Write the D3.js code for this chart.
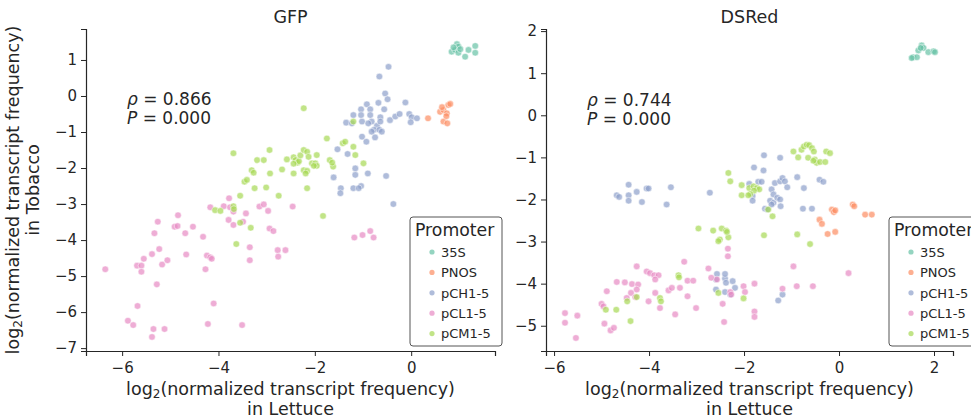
<!DOCTYPE html>
<html>
<head>
<meta charset="utf-8">
<script src="https://cdn.jsdelivr.net/npm/d3@7"></script>
<style>
  body { margin: 0; background: white; }
  text { font-family: "DejaVu Sans", sans-serif; fill: #262626; }
</style>
</head>
<body>
<div id="chart"></div>
<script>
// promoters and palette (seaborn Set2)
const promoters = ["35S", "PNOS", "pCH1-5", "pCL1-5", "pCM1-5"]
const colors = ["#66c2a5", "#fc8d62", "#8da0cb", "#e78ac3", "#a6d854"]

// GFP panel, [lettuce, tobacco]
const gfp35S = [[0.95,1.44],[0.98,1.37],[0.84,1.23],[0.91,1.28],[0.98,1.20],[1.12,1.09],[1.19,1.28],[1.33,1.39],[1.33,1.20],[0.88,1.35],[1.02,1.30]]
const gfpPNOS = [[0.35,-0.62],[0.60,-0.44],[0.67,-0.39],[0.77,-0.25],[0.81,-0.22],[0.74,-0.48],[0.67,-0.71],[0.75,-0.76],[0.64,-0.31],[0.73,-0.56]]
const gfpPCH = [[-0.47,0.81],[-0.66,0.54],[-0.54,0.07],[-0.49,-0.09],[-0.68,-0.19],[-0.92,-0.23],[-0.85,-0.37],[-1.04,-0.37],[-1.20,-0.53],[-1.04,-0.53],[-0.85,-0.53],[-0.64,-0.59],[-0.56,-0.37],[-1.35,-0.74],[-1.23,-0.76],[-1.02,-0.71],[-0.82,-0.71],[-0.89,-0.76],[-0.71,-0.83],[-0.77,-0.94],[-0.66,-0.94],[-0.61,-0.99],[-0.82,-0.99],[-0.64,-0.71],[-0.44,-0.67],[-0.33,-0.57],[-0.24,-0.50],[-0.12,-0.18],[-0.04,-0.50],[0.01,-0.59],[-0.01,-0.73],[0.12,-0.62],[-1.02,-1.13],[-0.93,-1.27],[-0.75,-1.15],[-1.53,-1.48],[-1.32,-1.61],[-1.16,-2.01],[-1.16,-2.19],[-1.61,-2.26],[-0.90,-2.15],[-0.52,-2.22],[-1.46,-2.56],[-1.47,-2.70],[-1.20,-2.56],[-1.04,-2.50],[-1.09,-2.56],[-0.37,-3.0]]
const gfpPCL = [[-6.35,-4.81],[-5.88,-6.24],[-5.77,-6.36],[-5.68,-5.83],[-5.69,-4.71],[-5.60,-4.71],[-5.60,-4.88],[-5.55,-4.52],[-5.38,-4.39],[-5.33,-3.81],[-5.26,-3.49],[-5.23,-4.25],[-5.28,-5.23],[-5.17,-4.68],[-5.06,-4.56],[-5.35,-6.47],[-5.38,-6.69],[-5.12,-6.47],[-4.91,-3.63],[-4.85,-3.61],[-4.84,-3.31],[-4.69,-3.81],[-4.67,-4.40],[-4.53,-3.63],[-4.32,-3.91],[-4.27,-4.81],[-4.24,-4.43],[-4.17,-4.48],[-4.14,-4.52],[-4.10,-5.76],[-4.22,-6.33],[-4.17,-3.09],[-3.89,-3.06],[-3.78,-2.84],[-3.79,-3.44],[-3.76,-3.09],[-3.69,-3.21],[-3.69,-3.58],[-3.49,-3.49],[-3.43,-3.26],[-3.35,-4.20],[-3.35,-4.56],[-3.51,-6.36],[-3.15,-3.07],[-3.06,-3.01],[-2.97,-3.19],[-2.94,-3.68],[-2.86,-3.75],[-2.77,-4.28],[-2.76,-4.46],[-2.61,-4.28],[-2.46,-3.07],[-1.18,-3.93],[-1.01,-3.86],[-0.85,-3.75],[-0.78,-3.93]]
const gfpPCM = [[-2.23,-0.34],[-1.20,-0.71],[-1.75,-1.18],[-1.42,-1.31],[-1.37,-1.27],[-1.20,-1.41],[-1.16,-1.64],[-0.99,-1.87],[-3.69,-1.59],[-2.94,-1.50],[-3.20,-1.78],[-3.06,-1.78],[-3.31,-2.06],[-3.27,-2.13],[-2.93,-2.15],[-2.68,-2.04],[-2.58,-1.76],[-2.44,-1.70],[-2.40,-1.78],[-2.36,-1.85],[-2.33,-1.81],[-2.44,-1.88],[-2.30,-1.65],[-2.23,-1.50],[-2.16,-1.55],[-2.13,-1.69],[-2.06,-1.87],[-1.99,-1.87],[-1.96,-1.94],[-2.02,-1.94],[-2.23,-2.06],[-2.16,-2.08],[-2.19,-2.15],[-2.44,-2.15],[-1.96,-1.64],[-1.69,-1.78],[-1.62,-1.96],[-1.64,-1.85],[-2.16,-2.56],[-3.46,-2.38],[-3.41,-2.33],[-3.25,-2.56],[-3.01,-2.54],[-2.75,-2.77],[-3.55,-2.77],[-3.69,-3.06],[-3.68,-3.14],[-4.07,-3.17],[-3.96,-3.19],[-3.55,-3.52],[-3.33,-3.66],[-3.63,-4.11],[-1.83,-3.33]]

// DSRed panel
const dsr35S = [[1.56,1.38],[1.64,1.38],[1.53,1.36],[1.67,1.54],[1.74,1.66],[1.78,1.60],[1.88,1.50],[1.99,1.52],[2.02,1.50],[1.72,1.60]]
const dsrPNOS = [[-0.15,-2.24],[-0.11,-2.30],[-0.08,-2.26],[0.29,-2.12],[0.32,-2.16],[0.55,-2.36],[0.69,-2.36],[-0.41,-2.48],[-0.36,-2.58],[-0.24,-2.82],[-0.08,-2.77]]
const dsrPCH = [[-1.58,-0.95],[-1.24,-1.01],[-1.79,-1.24],[-1.59,-1.31],[-2.72,-1.84],[-1.89,-1.63],[-1.70,-1.58],[-1.63,-1.58],[-1.82,-1.92],[-1.82,-2.03],[-1.42,-1.76],[-1.38,-1.88],[-1.45,-2.03],[-1.38,-2.08],[-1.30,-1.96],[-1.24,-2.00],[-1.42,-2.12],[-1.56,-2.22],[-1.51,-2.24],[-1.35,-1.61],[-1.24,-1.57],[-1.19,-1.49],[-1.14,-1.57],[-1.09,-1.71],[-1.23,-2.16],[-0.88,-1.47],[-0.74,-1.73],[-0.76,-2.22],[-0.57,-2.22],[-0.41,-1.53],[-0.33,-1.58],[-4.68,-1.90],[-4.63,-1.94],[-4.43,-1.65],[-4.43,-1.90],[-4.43,-2.03],[-4.26,-1.82],[-4.15,-2.06],[-4.05,-1.74],[-4.01,-1.74],[-3.63,-2.12],[-3.54,-1.71],[-2.59,-3.90],[-2.59,-4.14],[-2.40,-3.88],[-2.38,-3.98],[-2.24,-3.94],[-2.19,-4.10],[-2.40,-4.20],[-2.29,-4.26],[-2.57,-3.77],[-2.40,-3.77],[-1.28,-4.40],[-1.19,-4.26]]
const dsrPCL = [[-5.77,-4.70],[-5.77,-4.93],[-5.51,-4.76],[-5.54,-5.29],[-5.00,-4.48],[-4.96,-4.54],[-4.94,-4.95],[-4.81,-5.11],[-4.74,-5.05],[-4.89,-4.18],[-4.68,-3.96],[-4.51,-3.97],[-4.36,-4.01],[-4.23,-4.02],[-4.26,-4.14],[-4.38,-4.22],[-4.29,-4.32],[-4.47,-4.34],[-4.26,-3.59],[-4.05,-3.71],[-3.98,-3.75],[-3.89,-3.80],[-3.80,-3.80],[-3.87,-3.90],[-4.01,-4.42],[-3.87,-4.22],[-3.77,-4.58],[-3.59,-4.16],[-3.52,-4.10],[-3.35,-4.10],[-3.45,-4.73],[-3.19,-4.30],[-3.01,-4.58],[-3.26,-3.48],[-3.19,-3.93],[-3.07,-3.93],[-2.75,-3.64],[-2.69,-3.86],[-2.57,-3.90],[-2.45,-4.48],[-2.42,-4.91],[-2.29,-4.20],[-2.27,-4.26],[-2.34,-3.17],[-2.34,-3.35],[-2.01,-4.06],[-1.98,-4.20],[-1.78,-4.00],[-1.78,-4.66],[-1.78,-4.79],[-1.19,-4.12],[-0.96,-3.59],[-0.89,-4.06],[-0.55,-4.06],[0.20,-3.75]]
const dsrPCM = [[-0.96,-0.86],[-0.86,-1.00],[-0.79,-0.82],[-0.74,-0.74],[-0.68,-0.70],[-0.63,-0.71],[-0.57,-0.78],[-0.53,-0.86],[-0.65,-1.01],[-0.51,-1.05],[-0.47,-1.13],[-0.40,-1.11],[-0.29,-1.11],[-0.27,-0.86],[-0.19,-0.90],[-0.54,-1.08],[-2.33,-1.37],[-2.29,-1.57],[-2.05,-1.66],[-1.89,-1.73],[-1.80,-1.69],[-1.73,-1.73],[-1.68,-1.76],[-1.79,-1.79],[-1.87,-1.87],[-2.05,-1.90],[-1.91,-1.90],[-1.49,-2.24],[-1.40,-2.40],[-1.58,-2.85],[-0.88,-2.83],[-0.61,-3.06],[-2.96,-2.69],[-2.65,-2.74],[-2.47,-2.69],[-2.38,-2.74],[-2.33,-2.90],[-2.51,-2.95],[-2.54,-2.99],[-2.36,-2.77],[-4.91,-4.62],[-4.69,-4.62],[-4.39,-4.89],[-4.46,-4.42],[-4.26,-4.32],[-3.77,-4.34],[-3.75,-4.42],[-3.38,-3.80],[-3.37,-3.85],[-2.54,-4.22],[-2.01,-4.35]]

// ticks and stats
const gfpXTicks = [-6, -4, -2, 0]
const gfpYTicks = [1, 0, -1, -2, -3, -4, -5, -6, -7]
const dsrXTicks = [-6, -4, -2, 0, 2]
const dsrYTicks = [2, 1, 0, -1, -2, -3, -4, -5]
const rhoValues = ["0.866", "0.744"]
const pValues = ["0.000", "0.000"]

const W = 971, H = 419

let svg = d3.select("#chart").append("svg")
    .attr("width", W).attr("height", H)
    .style("background", "white")

let make = (opt) => {
    let x = d3.scaleLinear().domain(opt.xDomain).range([opt.left, opt.right])
    let y = d3.scaleLinear().domain(opt.yDomain).range([351, 29])
    let g = svg.append("g")

    // axes, despined
    let xAxis = g.append("g").attr("transform", "translate(0,351)")
        .call(d3.axisBottom(x).tickValues(opt.xTicks).tickSize(5).tickPadding(4)
            .tickFormat(d => d3.format("d")(d).replace("-", "\u2212")))
    let yAxis = g.append("g").attr("transform", `translate(${opt.left},0)`)
        .call(d3.axisLeft(y).tickValues(opt.yTicks).tickSize(5).tickPadding(4)
            .tickFormat(d => d3.format("d")(d).replace("-", "\u2212")))
    ;[xAxis, yAxis].forEach(a => {
        a.select(".domain").attr("stroke", "#262626").attr("stroke-width", 1.2)
        a.selectAll(".tick line").attr("stroke", "#262626").attr("stroke-width", 1)
        a.selectAll(".tick text").attr("font-size", 15).attr("fill", "#262626")
            .style("font-family", "DejaVu Sans")
    })
    xAxis.selectAll(".tick text").attr("dy", "0.85em")

    // points
    opt.series.forEach((s, i) => {
        g.append("g").selectAll("circle").data(s).enter().append("circle")
            .attr("cx", d => x(d[0]))
            .attr("cy", d => y(d[1]))
            .attr("r", 3.3)
            .attr("fill", colors[i])
            .attr("fill-opacity", 0.7)
            .attr("stroke", "white")
            .attr("stroke-width", 0.5)
    })

    // title
    g.append("text").attr("x", (opt.left + opt.right) / 2).attr("y", 23)
        .attr("text-anchor", "middle").attr("font-size", 17.5).text(opt.title)

    // x label, two lines
    let cx = (opt.left + opt.right) / 2
    let xl = g.append("text").attr("x", cx).attr("y", 395)
        .attr("text-anchor", "middle").attr("font-size", 17.5)
    xl.append("tspan").text("log")
    xl.append("tspan").attr("font-size", 12).attr("dy", 3).text("2")
    xl.append("tspan").attr("dy", -3).text("(normalized transcript frequency)")
    g.append("text").attr("x", cx).attr("y", 415)
        .attr("text-anchor", "middle").attr("font-size", 17.5).text("in Lettuce")

    // y label
    if (opt.yLabel) {
        let yl = g.append("text").attr("transform", "translate(19,190) rotate(-90)")
            .attr("text-anchor", "middle").attr("font-size", 17.5)
        yl.append("tspan").text("log")
        yl.append("tspan").attr("font-size", 12).attr("dy", 3).text("2")
        yl.append("tspan").attr("dy", -3).text("(normalized transcript frequency)")
        g.append("text").attr("transform", "translate(39,190) rotate(-90)")
            .attr("text-anchor", "middle").attr("font-size", 17.5).text("in Tobacco")
    }

    // correlation text
    let t1 = g.append("text").attr("x", opt.annX).attr("y", opt.annY).attr("font-size", 17)
    t1.append("tspan").attr("font-style", "italic").text("\u03c1")
    t1.append("tspan").text(" = " + opt.rho)
    let t2 = g.append("text").attr("x", opt.annX).attr("y", opt.annY + 19).attr("font-size", 17)
    t2.append("tspan").attr("font-style", "italic").text("P")
    t2.append("tspan").text(" = " + opt.p)

    // legend (the right one runs off the page, as in the figure)
    let lg = g.append("g").attr("transform", `translate(${opt.legX},217)`)
    lg.append("rect").attr("width", 92).attr("height", 129).attr("rx", 3)
        .attr("fill", "white").attr("fill-opacity", 0.8)
        .attr("stroke", "#555").attr("stroke-width", 1)
    lg.append("text").attr("x", 5).attr("y", 19).attr("font-size", 17.3).text("Promoter")
    promoters.forEach((p, i) => {
        let yy = 35 + i * 20.4
        lg.append("circle").attr("cx", 22).attr("cy", yy).attr("r", 2.6)
            .attr("fill", colors[i]).attr("fill-opacity", 0.7)
        lg.append("text").attr("x", 31).attr("y", yy + 4.7).attr("font-size", 13).text(p)
    })
}

make({
    title: "GFP", left: 86, right: 495,
    xDomain: [-6.75, 1.74], yDomain: [-7.08, 1.86],
    xTicks: gfpXTicks, yTicks: gfpYTicks,
    series: [gfp35S, gfpPNOS, gfpPCH, gfpPCL, gfpPCM],
    rho: rhoValues[0], p: pValues[0], annX: 127, annY: 105,
    legX: 410, yLabel: true
})
make({
    title: "DSRed", left: 546, right: 953,
    xDomain: [-6.17, 2.4], yDomain: [-5.6, 2.05],
    xTicks: dsrXTicks, yTicks: dsrYTicks,
    series: [dsr35S, dsrPNOS, dsrPCH, dsrPCL, dsrPCM],
    rho: rhoValues[1], p: pValues[1], annX: 587, annY: 106,
    legX: 889, yLabel: false
})
</script>
</body>
</html>
